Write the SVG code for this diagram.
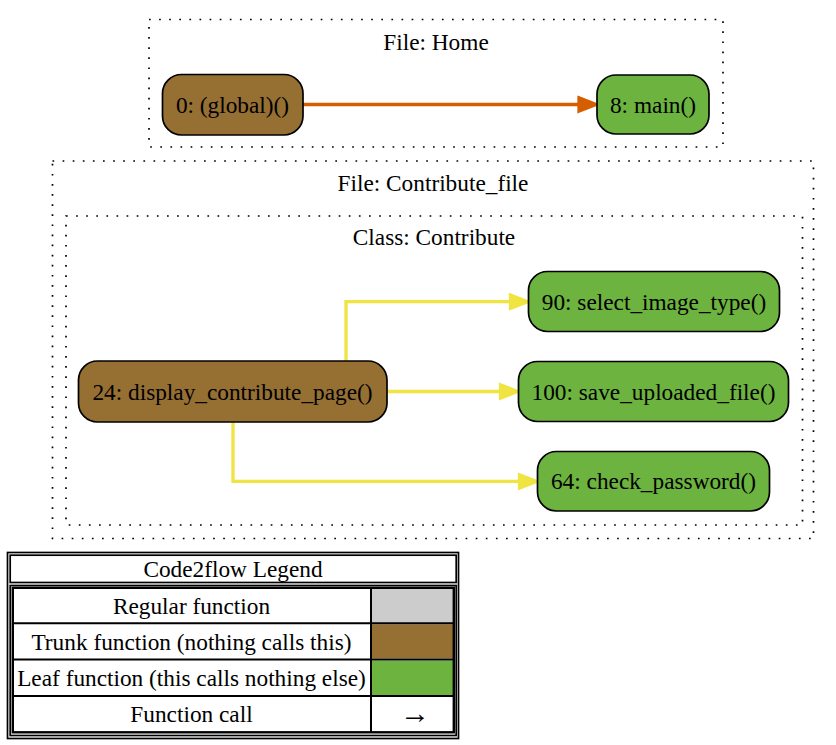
<svg xmlns="http://www.w3.org/2000/svg" width="836" height="745" viewBox="0 0 836 745">
<style>
text{font-family:"Liberation Serif","Times New Roman",serif;font-size:23.3px;fill:#000;text-anchor:middle}
.cluster{fill:none;stroke:#000;stroke-width:1.7;stroke-dasharray:1.7 8.4}
.trunk{fill:#966f33;stroke:#000;stroke-width:1.7}
.leaf{fill:#6db33f;stroke:#000;stroke-width:1.7}
.e{fill:none;stroke-width:3.3}
.eo{stroke:#d55e00}
.ey{stroke:#f0e442}
.lg{fill:none;stroke:#000;stroke-width:1.7}
.lc{stroke:#000;stroke-width:2}
</style>
<defs>
<marker id="ao" markerUnits="userSpaceOnUse" markerWidth="24" markerHeight="20" refX="0" refY="0" viewBox="-2 -10 24 20" orient="auto" overflow="visible">
<path d="M0,-6.6 L17,0 L0,6.6 Z" fill="#d55e00" stroke="#d55e00" stroke-width="3.3"/>
</marker>
<marker id="ay" markerUnits="userSpaceOnUse" markerWidth="24" markerHeight="20" refX="0" refY="0" viewBox="-2 -10 24 20" orient="auto" overflow="visible">
<path d="M0,-6.6 L17,0 L0,6.6 Z" fill="#f0e442" stroke="#f0e442" stroke-width="3.3"/>
</marker>
</defs>
<rect width="836" height="745" fill="#fff"/>
<g id="clusters">
<g id="cluster_home">
<rect class="cluster" x="149" y="19.5" width="574" height="127.5"/>
<text x="436" y="50">File: Home</text>
</g>
<g id="cluster_contribute_file">
<rect class="cluster" x="52.5" y="161" width="761" height="377.5"/>
<text x="433" y="191">File: Contribute_file</text>
</g>
<g id="cluster_class_contribute">
<rect class="cluster" x="66" y="216" width="736.5" height="309"/>
<text x="434" y="245">Class: Contribute</text>
</g>
</g>
<g id="edges">
<path class="e eo" d="M303,104.5 L579,104.5" marker-end="url(#ao)"/>
<path class="e ey" d="M346,361 L346,301.7 L510.5,301.7" marker-end="url(#ay)"/>
<path class="e ey" d="M387,391.5 L500.5,391.5" marker-end="url(#ay)"/>
<path class="e ey" d="M233,422 L233,481.4 L519.5,481.4" marker-end="url(#ay)"/>
</g>
<g id="node_global">
<rect class="trunk" x="162.5" y="74.5" width="140.5" height="60.5" rx="19"/>
<text x="232.5" y="112.5">0: (global)()</text>
</g>
<g id="node_main">
<rect class="leaf" x="597" y="75" width="112" height="59" rx="19"/>
<text x="653" y="112.5">8: main()</text>
</g>
<g id="node_display_contribute_page">
<rect class="trunk" x="78.5" y="361" width="308.5" height="61" rx="19"/>
<text x="232.5" y="399.5">24: display_contribute_page()</text>
</g>
<g id="node_select_image_type">
<rect class="leaf" x="528.5" y="271.5" width="251" height="60" rx="19"/>
<text x="654" y="309.7">90: select_image_type()</text>
</g>
<g id="node_save_uploaded_file">
<rect class="leaf" x="518.5" y="361.5" width="270" height="60" rx="19"/>
<text x="653.5" y="399.5">100: save_uploaded_file()</text>
</g>
<g id="node_check_password">
<rect class="leaf" x="537.5" y="451.5" width="232" height="59.5" rx="19"/>
<text x="653.5" y="489.4">64: check_password()</text>
</g>
<g id="legend">
<rect class="lg" x="7.5" y="552.5" width="451" height="186"/>
<rect class="lg" x="10.2" y="555.2" width="446" height="27.3"/>
<rect class="lg" x="10.2" y="585.5" width="446" height="150"/>
<rect x="372" y="589" width="81.5" height="34" fill="#cccccc"/>
<rect x="372" y="624.3" width="81.5" height="34.2" fill="#966f33"/>
<rect x="372" y="660.5" width="81.5" height="34.5" fill="#6db33f"/>
<rect x="12.8" y="587.8" width="441" height="144.5" fill="none" stroke="#000" stroke-width="2.4"/>
<line class="lc" x1="12.8" y1="623.3" x2="453.8" y2="623.3"/>
<line class="lc" x1="12.8" y1="659.5" x2="453.8" y2="659.5"/>
<line class="lc" x1="12.8" y1="696" x2="453.8" y2="696"/>
<line class="lc" x1="371" y1="587.8" x2="371" y2="732.3"/>
<text x="233" y="577">Code2flow Legend</text>
<text x="191.5" y="613.5">Regular function</text>
<text x="191.5" y="649.5">Trunk function (nothing calls this)</text>
<text x="191.5" y="686">Leaf function (this calls nothing else)</text>
<text x="191.5" y="722">Function call</text>
<text x="415" y="723" style="font-size:30px">→</text>
</g>
</svg>
